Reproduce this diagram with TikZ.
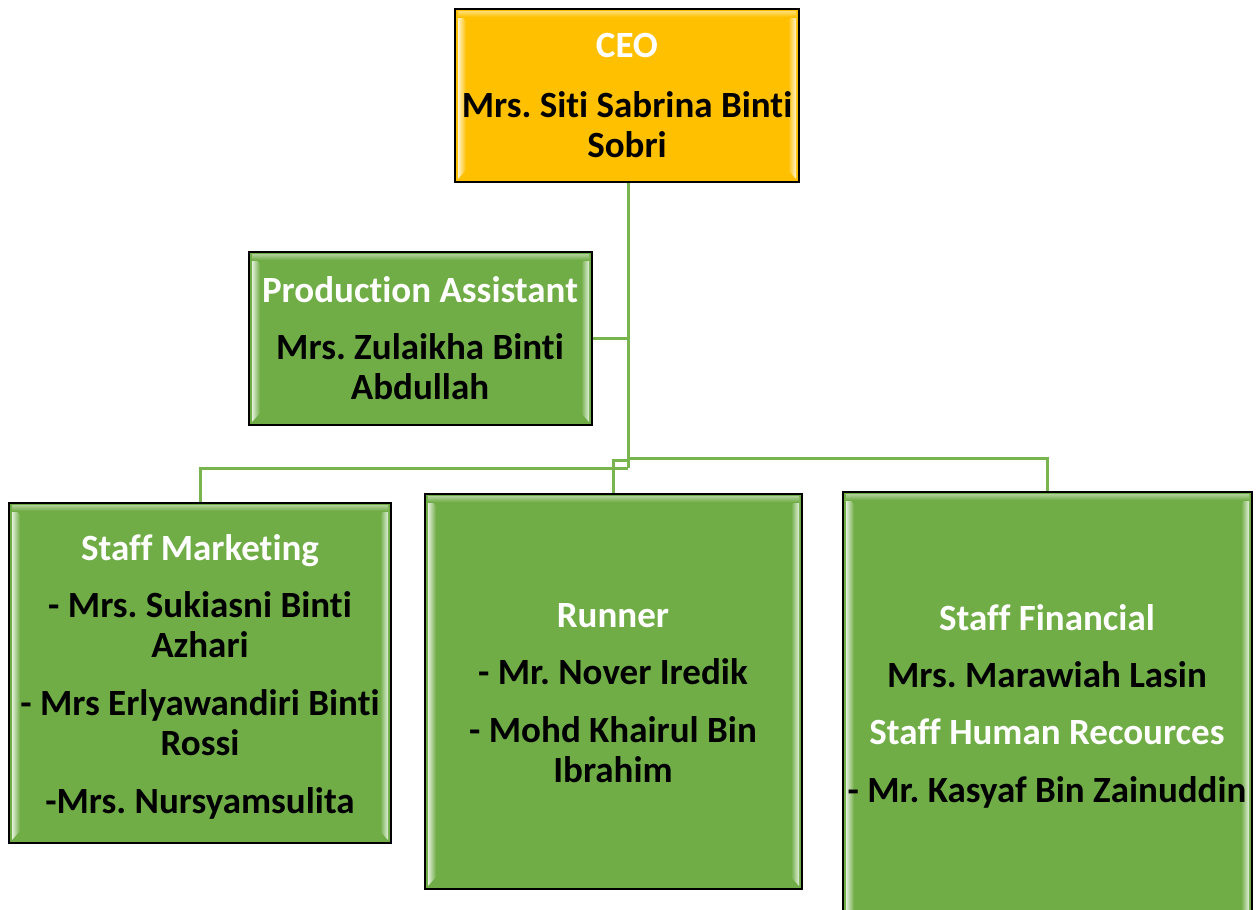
\documentclass[tikz,border=0pt]{standalone}
\usepackage{fontspec}
\setmainfont{Carlito}[Ligatures=NoCommon]
\frenchspacing
\definecolor{gold}{HTML}{FFC000}
\definecolor{grn}{HTML}{70AD47}
\definecolor{conn}{HTML}{78B54E}
\tikzset{
  box/.style={draw=black, line width=1.6pt, fill=#1, inner sep=0pt,
    path picture={
      \path (path picture bounding box.north west) coordinate (pnw)
            (path picture bounding box.south east) coordinate (pse);
      \shade[left color=#1!20!white, right color=#1]
        ([xshift=3pt,yshift=-3pt]pnw) -- ([xshift=11pt,yshift=-12pt]pnw)
        -- ([xshift=11pt,yshift=12pt]pnw |- pse) -- ([xshift=3pt,yshift=3pt]pnw |- pse) -- cycle;
      \shade[right color=#1!20!white, left color=#1]
        ([xshift=-3pt,yshift=-3pt]pse |- pnw) -- ([xshift=-11pt,yshift=-12pt]pse |- pnw)
        -- ([xshift=-11pt,yshift=12pt]pse) -- ([xshift=-3pt,yshift=3pt]pse) -- cycle;
      \shade[top color=#1!55!white, bottom color=#1]
        ([xshift=3pt,yshift=-2pt]pnw) rectangle ([xshift=-3pt,yshift=-8pt]pse |- pnw);
    }},
  wt/.style={anchor=base, text=white, inner sep=0pt, font=\fontsize{37}{40}\selectfont\bfseries},
  bt/.style={anchor=base, text=black, inner sep=0pt, font=\fontsize{37}{40}\selectfont\bfseries},
  link/.style={draw=conn, line width=3pt}
}
\begin{document}
\begin{tikzpicture}[x=1pt,y=-1pt]
\clip (0,0) rectangle (1259,910);
\fill[white] (0,0) rectangle (1259,910);

% junction coordinates
\coordinate (j1) at (628,458);
\coordinate (j2) at (628,468);
\coordinate (j3) at (613,460);
\coordinate (pa0) at (628,338);

% boxes
\node[box=gold, minimum width=344pt, minimum height=173pt] (ceo) at (627,95.5) {};
\node[box=grn, minimum width=343pt, minimum height=173pt] (pa) at (420.5,338.5) {};
\node[box=grn, minimum width=382pt, minimum height=340pt] (sm) at (200,673) {};
\node[box=grn, minimum width=377pt, minimum height=395pt] (run) at (613.5,691.5) {};
\node[box=grn, minimum width=409pt, minimum height=440pt] (fin) at (1047.5,712) {};

% connectors
\draw[link] (ceo.south -| pa0) -- (j2);
\draw[link] (pa0) -- (pa.east |- pa0);
\draw[link] (j2) -- (sm.north |- j2) -- (sm.north);
\draw[link] (j3 -| j1) -- (j3) -- (run.north -| j3);
\draw[link] (j1) -- (fin.north |- j1) -- (fin.north);

% texts
\node[wt] (t1) at (627,57) {CEO};
\node[bt] (t2) at (627,117) {Mrs. Siti Sabrina Binti};
\node[bt] (t3) at (627,157) {Sobri};

\node[wt] (t4) at (420,302) {Production Assistant};
\node[bt] (t5) at (420,359) {Mrs. Zulaikha Binti};
\node[bt] (t6) at (420,399) {Abdullah};

\node[wt] (t7) at (200,560) {Staff Marketing};
\node[bt] (t8) at (200,617) {- Mrs. Sukiasni Binti};
\node[bt] (t9) at (200,657) {Azhari};
\node[bt] (t10) at (200,715) {- Mrs Erlyawandiri Binti};
\node[bt] (t11) at (200,755) {Rossi};
\node[bt] (t12) at (200,813) {-Mrs. Nursyamsulita};

\node[wt] (t13) at (613,627) {Runner};
\node[bt] (t14) at (613,684) {- Mr. Nover Iredik};
\node[bt] (t15) at (613,742) {- Mohd Khairul Bin};
\node[bt] (t16) at (613,782) {Ibrahim};

\node[wt] (t17) at (1047,630) {Staff Financial};
\node[bt] (t18) at (1047,687) {Mrs. Marawiah Lasin};
\node[wt] (t19) at (1047,744) {Staff Human Recources};
\node[bt] (t20) at (1047,802) {- Mr. Kasyaf Bin Zainuddin};
\end{tikzpicture}
\end{document}
